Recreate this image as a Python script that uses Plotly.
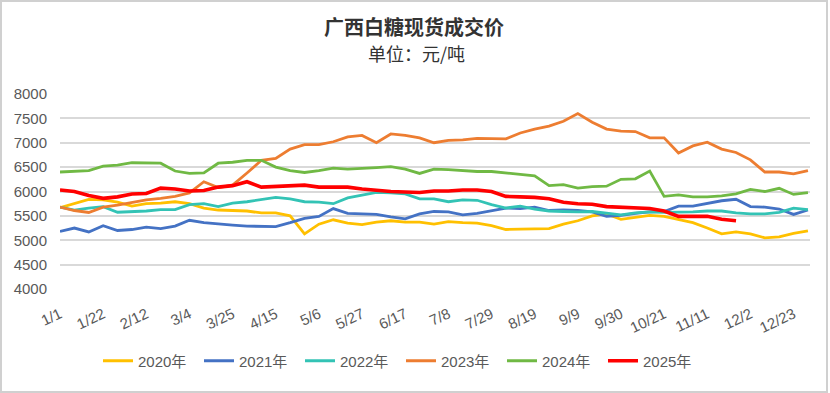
import plotly.graph_objects as go
import pandas as pd

# Weekly sampling dates (base year 2020 so the axis spans 1/1 .. 12/31)
dates = pd.date_range("2020-01-01", periods=53, freq="7D")

tick_dates = ["2020-01-01", "2020-01-22", "2020-02-12", "2020-03-04", "2020-03-25",
              "2020-04-15", "2020-05-06", "2020-05-27", "2020-06-17", "2020-07-08",
              "2020-07-29", "2020-08-19", "2020-09-09", "2020-09-30", "2020-10-21",
              "2020-11-11", "2020-12-02", "2020-12-23"]
tick_labels = ["1/1", "1/22", "2/12", "3/4", "3/25", "4/15", "5/6", "5/27", "6/17",
               "7/8", "7/29", "8/19", "9/9", "9/30", "10/21", "11/11", "12/2", "12/23"]

y2020 = [5670, 5760, 5840, 5830, 5780, 5700, 5750, 5760, 5790, 5750,
         5660, 5620, 5610, 5600, 5560, 5560, 5500, 5130, 5330, 5420,
         5350, 5320, 5370, 5400, 5370, 5370, 5330, 5380, 5360, 5350,
         5300, 5220, 5230, 5230, 5240, 5330, 5400, 5500, 5540, 5430,
         5470, 5510, 5490, 5430, 5360, 5250, 5130, 5170, 5130, 5050,
         5070, 5140, 5190]
y2021 = [5180, 5250, 5170, 5300, 5200, 5220, 5270, 5240, 5290, 5410,
         5360, 5330, 5310, 5290, 5280, 5280, 5360, 5450, 5490, 5650,
         5550, 5540, 5530, 5480, 5440, 5540, 5590, 5580, 5520, 5550,
         5600, 5660, 5650, 5680, 5610, 5620, 5610, 5580, 5490, 5510,
         5550, 5580, 5590, 5700, 5700, 5760, 5810, 5840, 5690, 5680,
         5640, 5530, 5620]
y2022 = [5680, 5620, 5660, 5690, 5575, 5580, 5600, 5630, 5630, 5730,
         5750, 5690, 5760, 5790, 5830, 5880, 5850, 5790, 5780, 5750,
         5870, 5930, 5980, 5970, 5950, 5850, 5850, 5790, 5830, 5820,
         5730, 5660, 5700, 5640, 5600, 5590, 5580, 5590, 5560, 5520,
         5560, 5580, 5570, 5570, 5580, 5600, 5600, 5560, 5540, 5540,
         5570, 5660, 5630]
y2023 = [5680, 5610, 5570, 5680, 5720, 5780, 5830, 5860, 5900, 5970,
         6200, 6080, 6130, 6380, 6640, 6680, 6870, 6960, 6960, 7020,
         7120, 7150, 7000, 7180, 7150, 7100, 7000, 7050, 7060, 7090,
         7080, 7080, 7200, 7280, 7340, 7440, 7600, 7420, 7280, 7240,
         7230, 7100, 7100, 6790, 6935, 7010, 6870, 6800, 6650, 6400,
         6400, 6360, 6430]
y2024 = [6400, 6420, 6430, 6520, 6540, 6590, 6580, 6580, 6420, 6370,
         6380, 6580, 6600, 6640, 6640, 6500, 6430, 6390, 6430, 6480,
         6460, 6470, 6490, 6510, 6460, 6370, 6460, 6450, 6430, 6410,
         6410, 6380, 6360, 6320, 6120, 6140, 6070, 6100, 6110, 6250,
         6260, 6420, 5900, 5930, 5890, 5890, 5910, 5950, 6045, 6000,
         6065, 5940, 5975]
y2025 = [6030, 6000, 5920, 5860, 5890, 5950, 5960, 6070, 6050, 6010,
         6020, 6090, 6120, 6200, 6090, 6100, 6110, 6130, 6090, 6090,
         6090, 6050, 6020, 6000, 5990, 5980, 6010, 6010, 6030, 6030,
         6000, 5900, 5890, 5880, 5850, 5780, 5750, 5740, 5690, 5680,
         5670, 5650, 5600, 5490, 5490, 5490, 5430, 5400]

series = [
    ("2020年", y2020, "#FFC000", 2.8),
    ("2021年", y2021, "#4472C4", 2.8),
    ("2022年", y2022, "#33C3B5", 2.8),
    ("2023年", y2023, "#ED7D31", 2.8),
    ("2024年", y2024, "#70B944", 2.8),
    ("2025年", y2025, "#FF0000", 3.6),
]

fig = go.Figure()
for name, vals, color, w in series:
    fig.add_trace(go.Scatter(
        x=dates[:len(vals)], y=vals, name=name, mode="lines",
        line=dict(color=color, width=w),
    ))

W, H = 830, 393
ml, mr, mt, mb = 60, 20, 94, 104
pw, ph = W - ml - mr, H - mt - mb

CJK = "Noto Sans CJK SC"
fig.update_layout(
    width=W, height=H,
    margin=dict(l=ml, r=mr, t=mt, b=mb),
    paper_bgcolor="white", plot_bgcolor="white",
    font=dict(family="Liberation Sans, Arial, sans-serif", color="#595959"),
    showlegend=True,
    legend=dict(
        orientation="h", x=(98 - ml) / pw, xanchor="left",
        y=-(mb - 32) / ph, yanchor="middle",
        font=dict(family="Liberation Sans, " + CJK, size=15, color="#595959"),
        entrywidth=56, entrywidthmode="pixels",
        traceorder="normal", bgcolor="rgba(0,0,0,0)",
    ),
    xaxis=dict(
        type="date", range=["2020-01-01", "2020-12-31"],
        tickmode="array", tickvals=tick_dates, ticktext=tick_labels,
        tickangle=-25, showgrid=False, zeroline=False,
        showline=False, ticks="", ticklabelstandoff=13,
        tickfont=dict(size=15, color="#595959"),
    ),
    yaxis=dict(
        range=[4000, 8000], dtick=500, tick0=4000,
        showgrid=True, gridcolor="#D9D9D9", gridwidth=1.5,
        zeroline=False, showline=False, ticks="", ticklabelstandoff=12,
        tickfont=dict(size=15, color="#595959"),
    ),
    annotations=[
        dict(text="<b>广西白糖现货成交价</b>", xref="paper", yref="paper",
             x=(414 - ml) / pw, y=1 + (mt - 27) / ph, xanchor="center", yanchor="middle",
             showarrow=False, font=dict(family=CJK, size=20, color="#333333")),
        dict(text="单位：元/吨", xref="paper", yref="paper",
             x=(416 - ml) / pw, y=1 + (mt - 52.5) / ph, xanchor="center", yanchor="middle",
             showarrow=False, font=dict(family=CJK, size=18, color="#333333")),
    ],
    shapes=[dict(
        type="rect", xref="paper", yref="paper",
        x0=-(ml - 1) / pw, x1=1 + (mr - 3) / pw,
        y0=-(mb - 1) / ph, y1=1 + (mt - 1) / ph,
        line=dict(color="#D0D0D0", width=2), fillcolor="rgba(0,0,0,0)",
        layer="below",
    )],
)

fig.write_html("out.html", config={"displayModeBar": False},
               post_script="document.body.style.margin='0';")
